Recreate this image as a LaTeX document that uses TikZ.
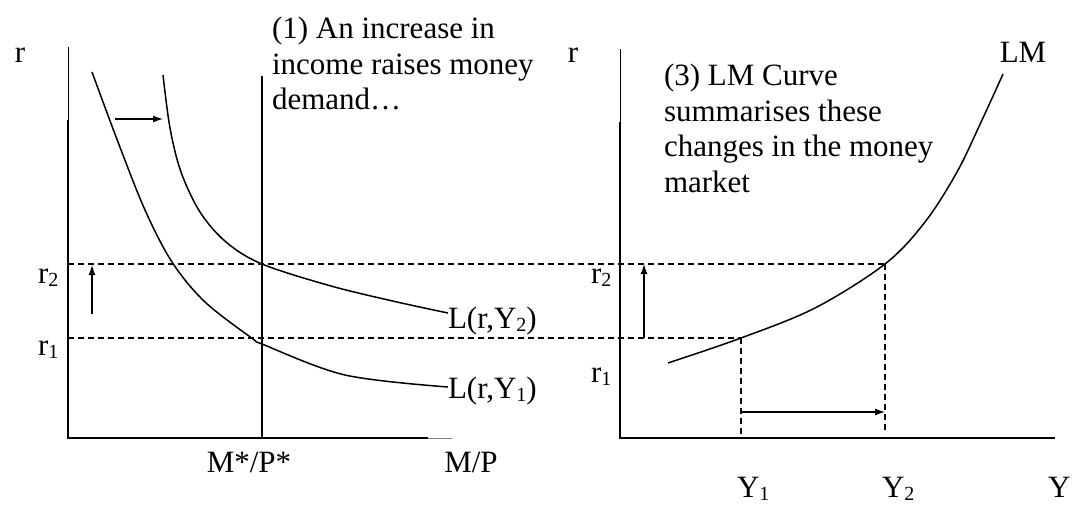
\documentclass[tikz,border=0pt]{standalone}
\usepackage{fontspec}
\setmainfont{Liberation Serif}
\usetikzlibrary{arrows.meta}
\newcommand{\lowix}[1]{\raisebox{-0.1em}{\fontsize{20}{20}\selectfont #1}}
\begin{document}
\begin{tikzpicture}[x=1pt,y=-1pt,
  lbl/.style={font=\fontsize{31}{35.5}\selectfont, inner sep=0pt, outer sep=0pt},
  axisthick/.style={line width=2pt},
  axisthin/.style={line width=0.9pt},
  curve/.style={line width=1.5pt},
  guide/.style={line width=1.3pt, dash pattern=on 6pt off 4pt},
  shiftarrow/.style={line width=1.3pt, -{Latex[length=10pt,width=7pt]}},
]
\useasboundingbox (0,0) rectangle (1078,508);
% key points
\coordinate (LAtop) at (68,47);
\coordinate (LAbrk) at (68,120);
\coordinate (LO) at (68,438);
\coordinate (LXend) at (428,438);
\coordinate (LXgray) at (452,438);
\coordinate (MStop) at (262,76);
\coordinate (MSbot) at (262,438);
\coordinate (RAtop) at (620,49);
\coordinate (RAbrk) at (620,122);
\coordinate (RO) at (620,438);
\coordinate (RXend) at (1055,438);
\coordinate (Lr2) at (68,264);
\coordinate (Lr1) at (68,338);
\coordinate (Er2) at (885,264);
\coordinate (Er1) at (741,338);
\coordinate (Y1b) at (741,434);
\coordinate (Y2b) at (885,434);
% axes
\draw[axisthin] (LAtop) -- (LAbrk);
\draw[axisthick] (LAbrk) -- (LO) -- (LXend);
\draw[line width=0.8pt, gray] (LXend) -- (LXgray);
\draw[axisthick] (MStop) -- (MSbot);
\draw[axisthin] (RAtop) -- (RAbrk);
\draw[axisthick] (RAbrk) -- (RO) -- (RXend);
% guides
\draw[guide] (Lr2) -- (Er2);
\draw[guide] (Lr1) -- (Er1);
\draw[guide] (Er1) -- (Y1b);
\draw[guide] (Er2) -- (Y2b);
% curves
\draw[curve] plot[smooth, tension=0.55] coordinates {(92,72) (118,142) (145,210) (172,262) (205,302) (253,339) (262,344) (345,375) (448,387)};
\draw[curve] plot[smooth, tension=0.55] coordinates {(163,75) (170,128) (181,172) (200,212) (226,242) (262,264) (331,286) (397,302) (448,313)};
\draw[curve] plot[smooth, tension=0.55] coordinates {(668,363) (741,338) (815,308) (885,264) (925,222) (957,172) (982,120) (1003,74)};
% arrows
\coordinate (a1s) at (115,119); \coordinate (a1e) at (163,119);
\coordinate (a2s) at (92,314); \coordinate (a2e) at (92,265);
\coordinate (a3s) at (644,338); \coordinate (a3e) at (644,264);
\coordinate (a4s) at (741,412); \coordinate (a4e) at (885,412);
\draw[shiftarrow] (a1s) -- (a1e);
\draw[shiftarrow] (a2s) -- (a2e);
\draw[shiftarrow] (a3s) -- (a3e);
\draw[shiftarrow] (a4s) -- (a4e);
% labels
\node[lbl, anchor=base] (rL) at (20,63) {r};
\node[lbl, anchor=base west] (r2L) at (38,283) {r\lowix{2}};
\node[lbl, anchor=base west] (r1L) at (38,355) {r\lowix{1}};
\node[lbl, anchor=base west] (LY2) at (448,328) {L(r,Y\lowix{2})};
\node[lbl, anchor=base west] (LY1) at (448,398) {L(r,Y\lowix{1})};
\node[lbl, anchor=base] (MP1) at (249,472) {M*/P*};
\node[lbl, anchor=base] (MP) at (471,472) {M/P};
\node[lbl, anchor=north west, align=left] (note1) at (272,17) {(1) An increase in\\income raises money\\demand…};
\node[lbl, anchor=base] (rR) at (573,63) {r};
\node[lbl, anchor=base] (LM) at (1023,63) {LM};
\node[lbl, anchor=north west, align=left] (note3) at (664,64) {(3) LM Curve\\summarises these\\changes in the money\\market};
\node[lbl, anchor=base west] (r2R) at (591,283) {r\lowix{2}};
\node[lbl, anchor=base west] (r1R) at (591,382) {r\lowix{1}};
\node[lbl, anchor=base west] (Y1) at (737,497) {Y\lowix{1}};
\node[lbl, anchor=base west] (Y2) at (882,497) {Y\lowix{2}};
\node[lbl, anchor=base west] (Y) at (1048,497) {Y};
\end{tikzpicture}
\end{document}
